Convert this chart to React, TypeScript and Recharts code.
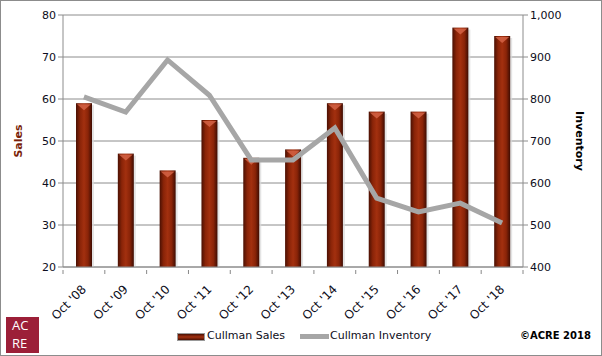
import { ComposedChart, Bar, Line, XAxis, YAxis, CartesianGrid } from "recharts";

const years = ["Oct '08", "Oct '09", "Oct '10", "Oct '11", "Oct '12", "Oct '13", "Oct '14", "Oct '15", "Oct '16", "Oct '17", "Oct '18"];
const sales = [59, 47, 43, 55, 46, 48, 59, 57, 57, 77, 75];
const inventory = [805, 769, 893, 809, 655, 655, 731, 564, 531, 552, 505];
const salesTicks = [20, 30, 40, 50, 60, 70, 80];
const inventoryTicks = [400, 500, 600, 700, 800, 900, 1000];

const data = years.map((year, i) => ({ year, sales: sales[i], inventory: inventory[i] }));

const FONT = "'DejaVu Sans', Verdana, sans-serif";
const BAND = 460 / years.length;
const TICK_COLOR = "#0d0d20";

function SalesBar(props: any) {
  const { x, y, width, height } = props;
  if (!height || height <= 0) return null;
  return (
    <g>
      <rect x={x + 2} y={y + 2} width={width} height={height - 2} fill="#d9d9d9" opacity={0.7} />
      <rect x={x} y={y} width={width} height={height} fill="url(#barGrad)" />
      <path
        d={`M${x + 1},${y + 1} L${x + width - 1},${y + 1} L${x + width / 2},${y + 7} Z`}
        fill="#d8674a"
        opacity={0.8}
      />
    </g>
  );
}

function XTick(props: any) {
  const { x, y, payload, index } = props;
  const last = index === years.length - 1;
  const ax = x + 3;
  const ay = y + 15;
  return (
    <g>
      <line x1={x - BAND / 2} y1={y - 5} x2={x - BAND / 2} y2={y - 1} stroke="#888" />
      {last && <line x1={x + BAND / 2} y1={y - 5} x2={x + BAND / 2} y2={y - 1} stroke="#888" />}
      <text
        x={ax}
        y={ay}
        textAnchor="end"
        transform={`rotate(-45 ${ax} ${ay})`}
        fontFamily={FONT}
        fontSize={12}
        fill={TICK_COLOR}
      >
        {payload.value}
      </text>
    </g>
  );
}

export default function App() {
  return (
    <div
      style={{
        position: "absolute",
        left: 0,
        top: 0,
        width: 600,
        height: 354,
        border: "1px solid #8c8c8c",
        background: "#fff",
        fontFamily: FONT,
      }}
    >
      <div style={{ position: "absolute", left: -1, top: -1 }}>
        <ComposedChart width={602} height={356} data={data} margin={{ top: 15, right: 0, bottom: 0, left: 0 }}>
          <defs>
            <linearGradient id="barGrad" x1="0" y1="0" x2="1" y2="0">
              <stop offset="0%" stopColor="#4a1003" />
              <stop offset="25%" stopColor="#8a2408" />
              <stop offset="50%" stopColor="#a3300f" />
              <stop offset="75%" stopColor="#8a2408" />
              <stop offset="100%" stopColor="#3e0c02" />
            </linearGradient>
          </defs>
          <CartesianGrid vertical={false} stroke="#8c8c8c" yAxisId="left" />
          <XAxis
            dataKey="year"
            height={89}
            stroke="#8c8c8c"
            tickLine={false}
            tick={<XTick />}
            interval={0}
          />
          <YAxis
            yAxisId="left"
            domain={[20, 80]}
            ticks={salesTicks}
            width={63}
            stroke="#8c8c8c"
            tickSize={5}
            tick={{ fontFamily: FONT, fontSize: 11, fill: TICK_COLOR }}
            label={{
              value: "Sales",
              angle: -90,
              position: "insideLeft",
              offset: 18,
              style: { fontFamily: FONT, fontSize: 11, fontWeight: "bold", fill: "#7a1f0a", textAnchor: "middle" },
            }}
          />
          <YAxis
            yAxisId="right"
            orientation="right"
            domain={[400, 1000]}
            ticks={inventoryTicks}
            width={79}
            stroke="#8c8c8c"
            tickSize={5}
            tickFormatter={(v: number) => v.toLocaleString("en-US")}
            tick={{ fontFamily: FONT, fontSize: 11, fill: TICK_COLOR }}
            label={{
              value: "Inventory",
              angle: 90,
              position: "insideRight",
              offset: 22,
              style: { fontFamily: FONT, fontSize: 11, fontWeight: "bold", fill: "#000", textAnchor: "middle" },
            }}
          />
          <Bar yAxisId="left" dataKey="sales" barSize={16} shape={<SalesBar />} isAnimationActive={false} />
          <Line
            yAxisId="right"
            dataKey="inventory"
            stroke="#a6a6a6"
            strokeWidth={5}
            dot={false}
            activeDot={false}
            type="linear"
            isAnimationActive={false}
          />
        </ComposedChart>
      </div>
      <div
        style={{
          position: "absolute",
          left: 5,
          top: 316,
          width: 33,
          height: 36,
          background: "#9c1f38",
          color: "#fff",
          fontFamily: "'Open Sans', sans-serif",
          fontSize: 13,
        }}
      >
        <div style={{ position: "absolute", left: 6, top: 1, lineHeight: "15px" }}>AC</div>
        <div style={{ position: "absolute", left: 6, top: 19, lineHeight: "15px" }}>RE</div>
      </div>
      <div
        style={{
          position: "absolute",
          left: 176,
          top: 332,
          width: 26,
          height: 6,
          background: "linear-gradient(#4a1003, #a3300f 50%, #4a1003)",
          border: "1px solid #999",
        }}
      />
      <div style={{ position: "absolute", left: 206, top: 328, fontSize: 11, color: TICK_COLOR }}>Cullman Sales</div>
      <div style={{ position: "absolute", left: 299, top: 333, width: 29, height: 5, background: "#a6a6a6" }} />
      <div style={{ position: "absolute", left: 329, top: 328, fontSize: 11, color: TICK_COLOR }}>Cullman Inventory</div>
      <div style={{ position: "absolute", left: 519, top: 329, fontSize: 10, fontWeight: "bold", color: "#000" }}>
        ©ACRE 2018
      </div>
    </div>
  );
}
